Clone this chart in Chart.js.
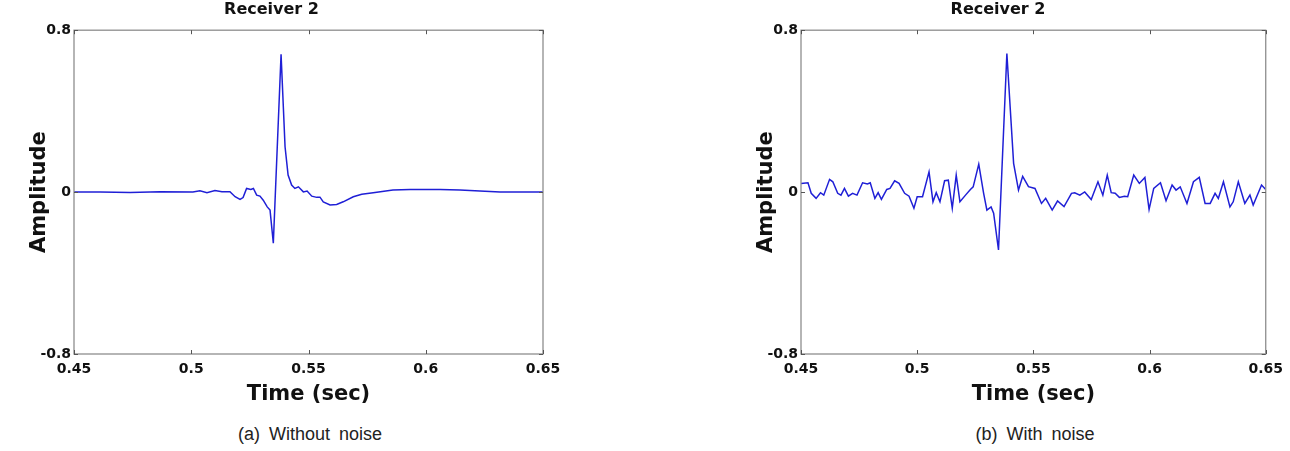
<!DOCTYPE html>
<html>
<head>
<meta charset="utf-8">
<script src="https://cdn.jsdelivr.net/npm/chart.js@4.4.0/dist/chart.umd.min.js"></script>
<style>
html, body { margin: 0; padding: 0; background: #fff; overflow: hidden; width: 1290px; height: 451px; }
.panel { position: absolute; top: 0; height: 415px; }
.caption { position: absolute; top: 424px; width: 300px; text-align: center; font-family: 'Liberation Sans Narrow', 'Liberation Sans', sans-serif; font-size: 18px; color: #222; word-spacing: 4px; }
</style>
</head>
<body>
<div class="panel" style="left:0;width:600px"><canvas id="chartA"></canvas></div>
<div class="panel" style="left:727px;width:563px"><canvas id="chartB"></canvas></div>
<div class="caption" style="left:160px">(a) Without noise</div>
<div class="caption" style="left:885px">(b) With noise</div>
<script>
// tick values / labels
const xTickValues = [0.45, 0.5, 0.55, 0.6, 0.65];
const xTickLabels = ['0.45', '0.5', '0.55', '0.6', '0.65'];
const yTickValues = [-0.8, 0, 0.8];
const yTickLabels = ['-0.8', '0', '0.8'];

// (a) without noise
const cleanTimes = [0.45, 0.4611, 0.4739, 0.4867, 0.5007, 0.5037, 0.5067, 0.5101, 0.5131, 0.5165,
  0.5187, 0.5208, 0.5221, 0.5236, 0.5254, 0.5265, 0.5279, 0.5293, 0.5307, 0.5324,
  0.5336, 0.535, 0.5383, 0.54, 0.5413, 0.5428, 0.5442, 0.5457, 0.5478, 0.5494,
  0.5514, 0.5535, 0.5549, 0.5563, 0.5592, 0.562, 0.5648, 0.5691, 0.5727, 0.5776,
  0.586, 0.5933, 0.6061, 0.6146, 0.6231, 0.6317, 0.6402, 0.65];
const cleanAmps = [0, 0.001, -0.002, 0.002, 0, 0.006, -0.003, 0.008, 0.002, 0.002,
  -0.023, -0.036, -0.027, 0.018, 0.013, 0.018, -0.015, -0.02, -0.04, -0.073,
  -0.089, -0.253, 0.681, 0.224, 0.084, 0.035, 0.018, 0.026, 0.001, 0.005,
  -0.02, -0.026, -0.025, -0.048, -0.064, -0.061, -0.048, -0.023, -0.011, -0.003,
  0.01, 0.013, 0.013, 0.01, 0.005, 0, 0.001, 0];

// (b) with noise
const noisyTimes = [0.45, 0.453, 0.4544, 0.4565, 0.4584, 0.4598, 0.4623, 0.4637, 0.4658, 0.4672,
  0.4687, 0.4704, 0.4722, 0.4741, 0.4765, 0.4786, 0.4798, 0.4818, 0.4832, 0.4846,
  0.4869, 0.4883, 0.4903, 0.4922, 0.4946, 0.4965, 0.4986, 0.5, 0.5023, 0.5051,
  0.5068, 0.5082, 0.5098, 0.5118, 0.5134, 0.5151, 0.5168, 0.5184, 0.5208, 0.5229,
  0.5241, 0.5265, 0.5286, 0.53, 0.5318, 0.5329, 0.535, 0.5386, 0.5415, 0.5436,
  0.5454, 0.5479, 0.5507, 0.5535, 0.5553, 0.5581, 0.5604, 0.5632, 0.5664, 0.5678,
  0.57, 0.5721, 0.5749, 0.5778, 0.5799, 0.5818, 0.5835, 0.5852, 0.587, 0.5892,
  0.5906, 0.5932, 0.5956, 0.598, 0.5998, 0.6018, 0.6047, 0.6071, 0.6097, 0.6114,
  0.6132, 0.6161, 0.6189, 0.6214, 0.6239, 0.6261, 0.6282, 0.6296, 0.6318, 0.6346,
  0.636, 0.6382, 0.641, 0.6432, 0.6446, 0.6482, 0.65];
const noisyAmps = [0.043, 0.046, -0.006, -0.031, -0.003, -0.015, 0.063, 0.051, -0.006, -0.015,
  0.018, -0.02, -0.006, -0.015, 0.046, 0.04, 0.046, -0.031, -0.003, -0.036,
  0.013, 0.018, 0.056, 0.043, -0.006, -0.02, -0.08, -0.023, -0.023, 0.1,
  -0.048, -0.003, -0.048, 0.056, 0.059, -0.08, 0.084, -0.048, -0.015, 0.013,
  0.026, 0.138, -0.006, -0.089, -0.073, -0.104, -0.286, 0.685, 0.142, 0.01,
  0.078, 0.027, 0.018, -0.056, -0.031, -0.089, -0.044, -0.072, -0.006, -0.003,
  -0.015, 0.001, -0.037, 0.051, -0.015, 0.084, -0.003, -0.006, -0.026, -0.02,
  -0.023, 0.084, 0.043, 0.072, -0.086, 0.018, 0.046, -0.043, 0.035, 0.01,
  0.026, -0.056, 0.051, 0.073, -0.056, -0.056, -0.006, -0.031, 0.051, -0.073,
  -0.048, 0.051, -0.056, -0.015, -0.064, 0.035, 0.013];

const FONT = "'DejaVu Sans', 'Liberation Sans', sans-serif";

// matlab style box with inward ticks
const boxTicks = {
  id: 'boxTicks',
  afterDraw(chart) {
    const { ctx, chartArea: a } = chart;
    const x = chart.scales.x, y = chart.scales.y;
    ctx.save();
    ctx.strokeStyle = '#8e8e8e';
    ctx.lineWidth = 1.3;
    ctx.strokeRect(a.left, a.top, a.right - a.left, a.bottom - a.top);
    ctx.strokeStyle = '#555';
    ctx.lineWidth = 1;
    ctx.beginPath();
    xTickValues.forEach(v => {
      const px = Math.round(x.getPixelForValue(v)) + 0.5;
      ctx.moveTo(px, a.bottom); ctx.lineTo(px, a.bottom - 4);
      ctx.moveTo(px, a.top); ctx.lineTo(px, a.top + 4);
    });
    yTickValues.forEach(v => {
      const py = Math.round(y.getPixelForValue(v)) + 0.5;
      ctx.moveTo(a.left, py); ctx.lineTo(a.left + 4, py);
      ctx.moveTo(a.right, py); ctx.lineTo(a.right - 4, py);
    });
    ctx.stroke();
    ctx.restore();
  }
};

function makeChart(id, times, amps, padRight) {
  const ctx = document.getElementById(id).getContext('2d');
  return new Chart(ctx, {
    type: 'line',
    data: {
      datasets: [{
        data: times.map((t, i) => ({ x: t, y: amps[i] })),
        borderColor: '#1f1fd6',
        borderWidth: 1.5,
        pointRadius: 0,
        tension: 0,
        fill: false
      }]
    },
    options: {
      responsive: true,
      maintainAspectRatio: false,
      animation: false,
      layout: { padding: { left: 0, right: padRight, top: 0, bottom: 0 } },
      plugins: {
        legend: { display: false },
        tooltip: { enabled: false },
        title: {
          display: true,
          text: 'Receiver 2',
          color: '#111',
          font: { family: FONT, size: 16, weight: 'bold' },
          padding: { top: 0, bottom: 11 }
        }
      },
      scales: {
        x: {
          type: 'linear',
          min: 0.45,
          max: 0.65,
          afterBuildTicks: s => { s.ticks = xTickValues.map(v => ({ value: v })); },
          afterFit: s => { s.height = 61; },
          grid: { display: false, drawTicks: false },
          border: { display: false },
          ticks: {
            callback: (v, i) => xTickLabels[i],
            color: '#111',
            font: { family: FONT, size: 14, weight: 'bold' },
            padding: 7,
            maxRotation: 0,
            autoSkip: false
          },
          title: {
            display: true,
            text: 'Time (sec)',
            color: '#111',
            font: { family: FONT, size: 21, weight: 'bold' },
            padding: { top: 0, bottom: 8 }
          }
        },
        y: {
          min: -0.8,
          max: 0.8,
          afterBuildTicks: s => { s.ticks = yTickValues.map(v => ({ value: v })); },
          afterFit: s => { s.width = 74; },
          grid: { display: false, drawTicks: false },
          border: { display: false },
          ticks: {
            callback: (v, i) => yTickLabels[i],
            color: '#111',
            font: { family: FONT, size: 14, weight: 'bold' },
            padding: 3
          },
          title: {
            display: true,
            text: 'Amplitude',
            color: '#111',
            font: { family: FONT, size: 21, weight: 'bold' },
            padding: { top: 27, bottom: 0 }
          }
        }
      }
    },
    plugins: [boxTicks]
  });
}

makeChart('chartA', cleanTimes, cleanAmps, 57);
makeChart('chartB', noisyTimes, noisyAmps, 21);
</script>
</body>
</html>
